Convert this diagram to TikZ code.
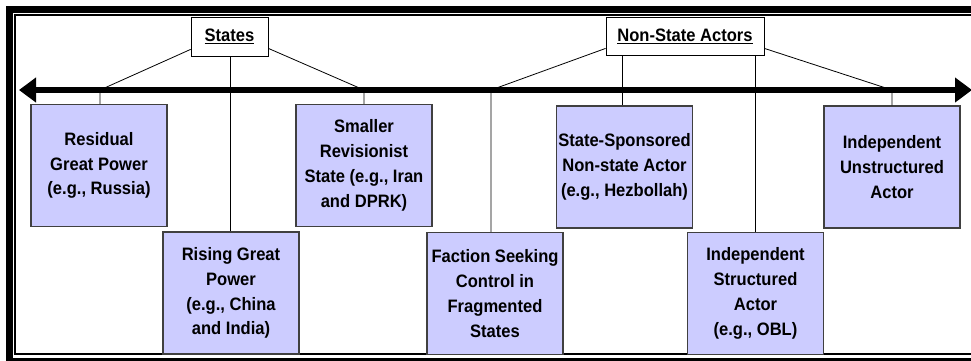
\documentclass[tikz,border=0pt]{standalone}
\usepackage{fontspec}
\setmainfont{Liberation Sans}
\newfontfamily\boxfont{Liberation Sans}[FakeStretch=0.92]
\usetikzlibrary{arrows.meta}
\definecolor{boxfill}{HTML}{CCCCFF}
\definecolor{boxline}{HTML}{404040}
\tikzset{
  actor/.style={draw=boxline, line width=1.2pt, fill=boxfill, minimum width=136pt,
    minimum height=122pt, inner sep=0pt, align=center,
    font=\boxfont\fontsize{18}{24.8}\selectfont\bfseries},
  header/.style={draw=black, line width=0.8pt, fill=white, inner sep=0pt,
    font=\boxfont\fontsize{18}{20}\selectfont\bfseries},
  link/.style={draw=black, line width=0.8pt},
  axis/.style={line width=6pt, {Triangle[length=17pt,width=24pt]}-{Triangle[length=17pt,width=24pt]}},
}
\begin{document}
\begin{tikzpicture}[x=1pt, y=-1pt]
\useasboundingbox (0,0) rectangle (971,360);
\clip (0,0) rectangle (971,360);
\fill[white] (0,0) rectangle (971,360);
% frame
\draw[line width=7pt] (9.5,9.5) rectangle (990,361.5);
\draw[line width=1.6pt] (15,15) rectangle (982,354);
% headers
\node[header, minimum width=77pt, minimum height=39pt] (states) at (229.5,36.5) {\underline{States}};
\node[header, minimum width=158pt, minimum height=38pt] (nsa) at (685,36) {\underline{Non-State Actors}};
% actors
\node[actor] (residual) at (99,165.5) {Residual\\Great Power\\(e.g., Russia)};
\node[actor] (rising) at (231,293) {Rising Great\\Power\\(e.g., China\\and India)};
\node[actor] (smaller) at (364,165.5) {Smaller\\Revisionist\\State (e.g., Iran\\and DPRK)};
\node[actor] (faction) at (495,293.5) {Faction Seeking\\Control in\\Fragmented\\States};
\node[actor] (sponsored) at (624.5,167) {State-Sponsored\\Non-state Actor\\(e.g., Hezbollah)};
\node[actor] (structured) at (755.5,293.5) {Independent\\Structured\\Actor\\(e.g., OBL)};
\node[actor] (unstructured) at (892,167) {Independent\\Unstructured\\Actor};
% junctions on the axis
\coordinate (j1) at (100,90);
\coordinate (j2) at (364,90);
\coordinate (j3) at (491,90);
\coordinate (j4) at (892,90);
% connectors
\draw[link] ([yshift=7pt]states.south west) -- (j1) -- (residual.north -| j1);
\draw[link] ([yshift=8pt]states.south east) -- (j2) -- (smaller.north -| j2);
\draw[link] (states.south -| 230,0) -- (rising.north -| 230,0);
\draw[link] ([yshift=7pt]nsa.south west) -- (j3) -- (faction.north -| j3);
\draw[link] (nsa.south -| 622,0) -- (sponsored.north -| 622,0);
\draw[link] (nsa.south -| 755,0) -- (structured.north -| 755,0);
\draw[link] ([yshift=7pt]nsa.south east) -- (j4) -- (unstructured.north -| j4);
% axis arrow
\coordinate (aL) at (19,90);
\coordinate (aR) at (972,90);
\draw[axis] (aL) -- (aR);
\end{tikzpicture}
\end{document}
